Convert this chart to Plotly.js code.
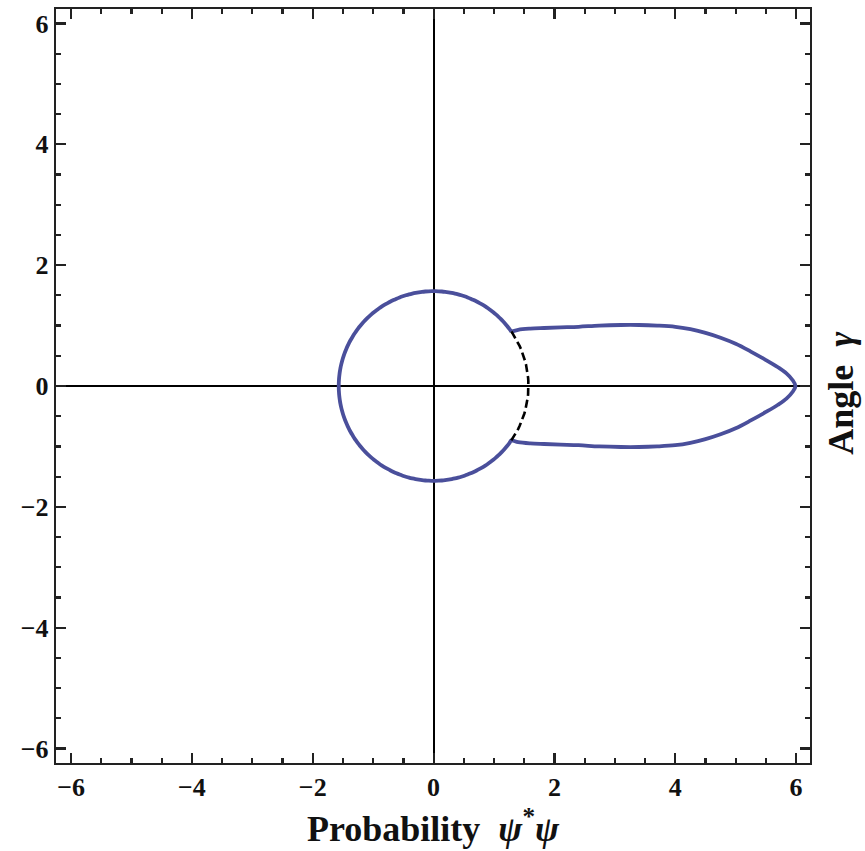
<!DOCTYPE html>
<html>
<head>
<meta charset="utf-8">
<script src="https://cdn.plot.ly/plotly-3.0.1.min.js"></script>
<style>
  html, body { margin: 0; padding: 0; background: #ffffff; }
  #chart { width: 865px; height: 851px; }
</style>
</head>
<body>
<div id="chart"></div>
<script>
// Circular part of the probability curve (constant radius) and where the lobe leaves it
const circleRadius = 1.57;
const junctionDeg = 35;

// Elongated lobe along the positive axis: upper and lower branches, from junction to tip
const lobeX      = [1.29, 1.40, 1.60, 1.83, 2.10, 2.40, 2.74, 3.10, 3.40, 3.70, 4.00, 4.25, 4.50, 4.75, 5.00, 5.25, 5.50, 5.70, 5.84, 5.94, 5.99];
const lobeYUpper = [0.90, 0.93, 0.95, 0.96, 0.97, 0.98, 1.00, 1.01, 1.01, 1.00, 0.98, 0.94, 0.88, 0.80, 0.70, 0.57, 0.43, 0.31, 0.21, 0.10, 0.00];
const lobeYLower = [-0.90, -0.93, -0.95, -0.96, -0.97, -0.98, -1.00, -1.01, -1.01, -1.00, -0.98, -0.94, -0.88, -0.80, -0.70, -0.57, -0.43, -0.31, -0.21, -0.10, 0.00];

// Axis ticks
const tickValues = [-6, -4, -2, 0, 2, 4, 6];

const deg = Math.PI / 180;

// Points along a circular arc of the given radius between two angles (degrees)
function arcPoints(r, fromDeg, toDeg, stepDeg) {
  const xs = [], ys = [];
  const n = Math.ceil(Math.abs(toDeg - fromDeg) / stepDeg);
  for (let i = 0; i <= n; i++) {
    const a = (fromDeg + (toDeg - fromDeg) * i / n) * deg;
    xs.push(r * Math.cos(a));
    ys.push(r * Math.sin(a));
  }
  return { x: xs, y: ys };
}

// Closed solid curve: circle (35° → 325°), lower lobe out to the tip, upper lobe back
const circ = arcPoints(circleRadius, junctionDeg, 360 - junctionDeg, 2);
const solidX = circ.x.concat(lobeX.slice(1), lobeX.slice().reverse().slice(1));
const solidY = circ.y.concat(lobeYLower.slice(1), lobeYUpper.slice().reverse().slice(1));

// Hidden part of the circle inside the lobe
const hidden = arcPoints(circleRadius, -junctionDeg, junctionDeg, 2);

const serif = 'Liberation Serif, Times New Roman, serif';
const tickFont = { family: serif, size: 26, color: '#111', weight: 'bold' };
const titleFont = { family: serif, size: 36, color: '#111', weight: 'bold' };

const axisCommon = {
  tickmode: 'array',
  tickvals: tickValues,
  ticks: 'inside',
  ticklen: 10,
  tickwidth: 2.2,
  tickcolor: '#222',
  minor: { dtick: 0.5, tick0: 0, ticks: 'inside', ticklen: 5, tickwidth: 2.2, tickcolor: '#222', showgrid: false },
  showline: true,
  linecolor: '#222',
  linewidth: 2.2,
  mirror: 'allticks',
  showgrid: false,
  zeroline: true,
  zerolinecolor: '#000',
  zerolinewidth: 2,
  tickfont: tickFont,
  fixedrange: true
};

const traces = [
  {
    x: solidX, y: solidY,
    mode: 'lines',
    line: { color: '#4a4f9b', width: 3.8, shape: 'spline', smoothing: 1 },
    hoverinfo: 'skip',
    showlegend: false
  },
  {
    x: hidden.x, y: hidden.y,
    mode: 'lines',
    line: { color: '#000', width: 2.6, dash: '8px,4px' },
    hoverinfo: 'skip',
    showlegend: false
  }
];

const layout = {
  width: 865,
  height: 851,
  margin: { l: 56, r: 55, t: 9, b: 88 },
  paper_bgcolor: '#ffffff',
  plot_bgcolor: '#ffffff',
  xaxis: Object.assign({}, axisCommon, {
    range: [-6.25, 6.23],
    title: { text: 'Probability  <i>ψ</i><sup>*</sup><i>ψ</i>', font: titleFont, standoff: 14 }
  }),
  yaxis: Object.assign({}, axisCommon, {
    range: [-6.24, 6.24]
  }),
  annotations: [
    {
      text: 'Angle  <i>γ</i>',
      xref: 'paper', yref: 'paper',
      x: 1.04, y: 0.49,
      xanchor: 'center', yanchor: 'middle',
      textangle: -90,
      showarrow: false,
      font: titleFont
    }
  ]
};

Plotly.newPlot('chart', traces, layout, { displayModeBar: false, staticPlot: true });
</script>
</body>
</html>
